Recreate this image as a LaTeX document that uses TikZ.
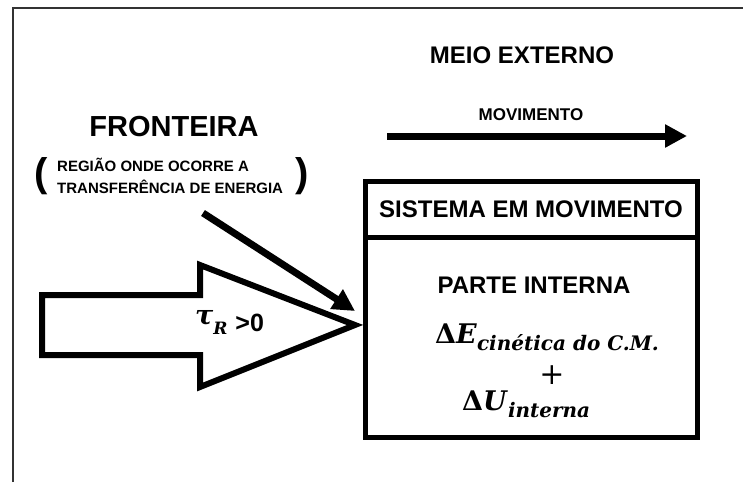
\documentclass[tikz,border=0pt]{standalone}
\usepackage{fontspec}
\newfontfamily\arial{Liberation Sans}
\newfontfamily\fontemat{DejaVu Serif}
\usetikzlibrary{arrows.meta,positioning}
\newcommand{\indice}[2][-7pt]{\raisebox{#1}{\fontsize{20}{20}\selectfont\fontemat\bfseries\itshape #2}}
\tikzset{rotulo/.style={inner sep=0pt, font=\arial\bfseries\fontsize{#1}{#1}\selectfont},
%text in the box is a bit larger than the labels
rotulo/.default={24},
caixa/.style={draw, line width=5pt, minimum width=332pt, outer sep=0pt, inner sep=0pt},
seta/.style={line width=7pt, -{Triangle[length=22pt,width=22pt]}},
expressao/.style={inner sep=0pt, anchor=base west, font=\fontemat\bfseries\fontsize{27}{30}\selectfont}}

\begin{document}
\begin{tikzpicture}[x=1pt,y=-1pt]
    \useasboundingbox (0,0) rectangle (743,482);

    \draw[line width=1.5pt, black!80] (13,482) -- (13,8) -- (743,8);

    \coordinate (0) at (42,295);
    \coordinate (1) at (200,295);
    \coordinate (2) at (200,265);
    \coordinate (3) at (355,325);
    \coordinate (4) at (200,387);
    \coordinate (5) at (200,355);
    \coordinate (6) at (42,355);

    \coordinate (7) at (203,213);
    \coordinate (8) at (355,311);
    \coordinate (9) at (387,136);
    \coordinate (10) at (687,136);

    \node[rotulo=29] (fronteira) at (174,127) {FRONTEIRA};
    \node[rotulo, font=\arial\bfseries\fontsize{15}{22}\selectfont, align=left, anchor=west] (regiao) at (57,176)
        {REGIÃO ONDE OCORRE A\\TRANSFERÊNCIA DE ENERGIA};
    \node[rotulo=40] (parEsq) at (41,176) {(};
    \node[rotulo=40] (parDir) at (302,176) {)};

    \node[rotulo] (meio) at (522,55) {MEIO EXTERNO};
    \node[rotulo=17] (movimento) at (531,115) {MOVIMENTO};

    \node[caixa, minimum height=56pt] (titulo) at (531,209) {};
    \node[caixa, minimum height=200pt, below=0pt of titulo] (interno) {};
    \node[rotulo] (sistema) at (titulo.center) {SISTEMA EM MOVIMENTO};
    \node[rotulo] (parte) at (534,285) {PARTE INTERNA};

    \node[expressao] (energia) at (435,343) {Δ\textit{E}\indice{cinética do C.M.}};
    \node[inner sep=0pt, font=\fontemat\fontsize{30}{30}\selectfont] (mais) at (552,375) {+};
    \node[expressao] (interna) at (462,410) {Δ\textit{U}\indice{interna}};

    \draw[line width=6pt, line join=miter] (0) -- (1) -- (2) -- (3) -- (4) -- (5) -- (6) -- cycle;
    \node[expressao, font=\fontemat\bfseries\itshape\fontsize{27}{27}\selectfont] (trabalho) at (195,331)
        {\raisebox{7pt}{τ}\raisebox{-3pt}{\fontsize{17}{17}\selectfont R}\hspace{8pt}{\arial\upshape\fontsize{25}{25}\selectfont >0}};

    \draw[seta] (7) -- (8);
    \draw[seta] (9) -- (10);

\end{tikzpicture}
\end{document}
